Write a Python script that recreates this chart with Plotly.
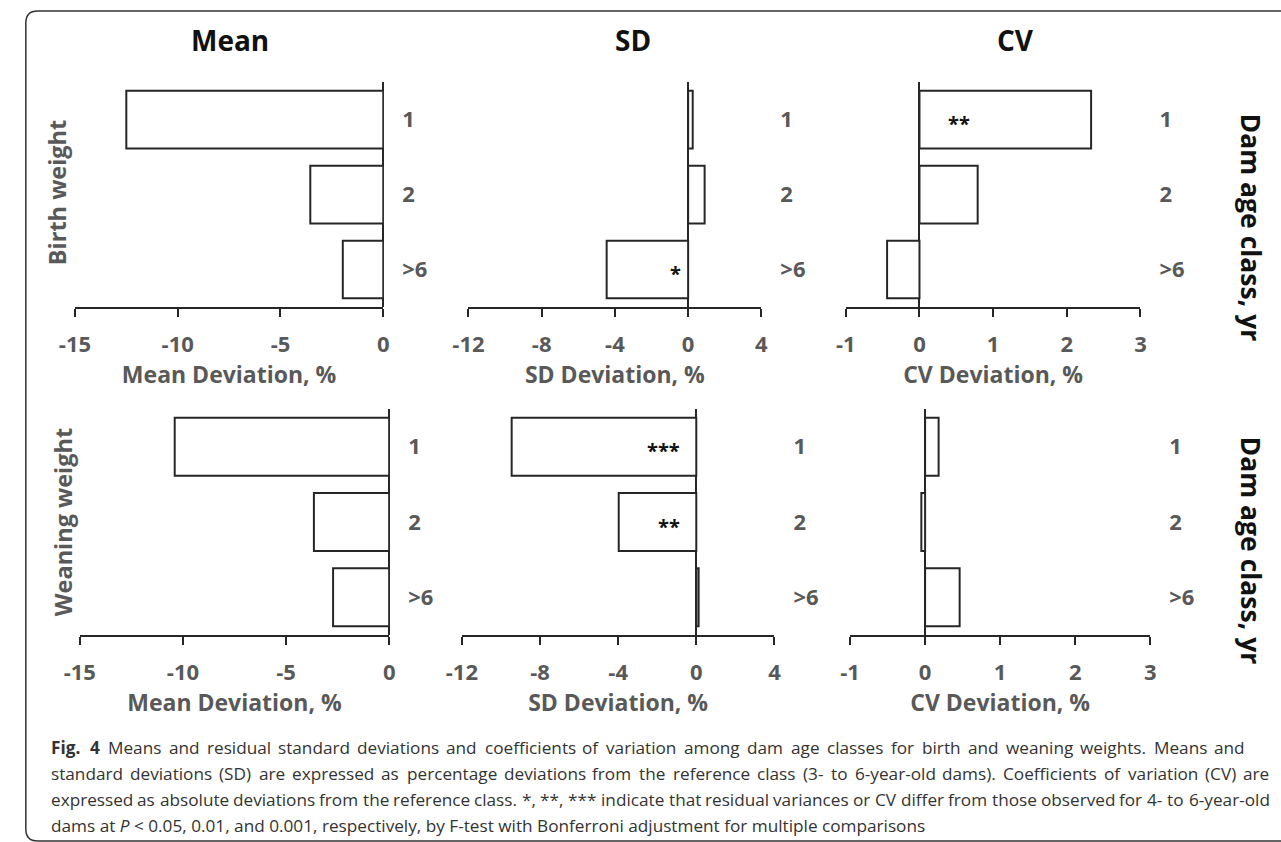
import plotly.graph_objects as go
from plotly.subplots import make_subplots

# ---------------- data ----------------
categories = ["1", "2", ">6"]

birth_mean = [-12.5, -3.55, -1.97]
birth_sd = [0.25, 0.90, -4.45]
birth_cv = [2.33, 0.79, -0.44]

wean_mean = [-10.4, -3.65, -2.72]
wean_sd = [-9.45, -3.97, 0.12]
wean_cv = [0.18, -0.05, 0.46]

birth_sd_sig = ["", "", "*"]
birth_cv_sig = ["**", "", ""]
wean_sd_sig = ["***", "**", ""]

col_titles = ["Mean", "SD", "CV"]
row_titles = ["Birth weight", "Weaning weight"]
x_titles = ["Mean Deviation, %", "SD Deviation, %", "CV Deviation, %"]
x_ranges = [[-15, 0], [-12, 4], [-1, 3]]
x_ticks = [[-15, -10, -5, 0], [-12, -8, -4, 0, 4], [-1, 0, 1, 2, 3]]
right_title = "Dam age class, yr"

caption_lines = [
    "Fig. 4 Means and residual standard deviations and coefficients of variation among dam age classes for birth and weaning weights. Means and",
    "standard deviations (SD) are expressed as percentage deviations from the reference class (3- to 6-year-old dams). Coefficients of variation (CV) are",
    "expressed as absolute deviations from the reference class. *, **, *** indicate that residual variances or CV differ from those observed for 4- to 6-year-old",
    "dams at <i>P</i> &lt; 0.05, 0.01, and 0.001, respectively, by F-test with Bonferroni adjustment for multiple comparisons",
]
caption_bold_words = 2          # "Fig." and "4"
caption_justified = [True, True, True, False]

# ---------------- layout helpers ----------------
W, H = 1281, 842
def px(x):
    return x / W
def py(y):
    return 1 - y / H

GRAY = "#595959"
LINE = "#262626"
FONT = "Open Sans"
CAP_SIZE = 17.2
CAP_X0 = 35
CAP_X1 = [1250, 1275, 1274, None]

# approximate Open Sans advance widths (em) used to justify the caption
OS_W = {
    "a": .556, "b": .613, "c": .48, "d": .613, "e": .561, "f": .336, "g": .546,
    "h": .614, "i": .252, "j": .252, "k": .529, "l": .252, "m": .932, "n": .614,
    "o": .602, "p": .613, "q": .613, "r": .409, "s": .477, "t": .353, "u": .614,
    "v": .5, "w": .775, "x": .524, "y": .5, "z": .468,
    "C": .631, "D": .729, "M": .907, "S": .549, "V": .59, "F": .516, "B": .648,
    "P": .603, ".": .266, ",": .245, "(": .296, ")": .296, "-": .322, "*": .551,
}
OS_WB = {"F": .6, "i": .31, "g": .59, ".": .29}

def word_w(word, bold=False):
    tot = 0.0
    for ch in word:
        if bold and ch in OS_WB:
            tot += OS_WB[ch]
        elif ch.isdigit():
            tot += .572
        else:
            tot += OS_W.get(ch, .55)
    return tot * CAP_SIZE

fig = make_subplots(rows=2, cols=3)

series = [[birth_mean, birth_sd, birth_cv], [wean_mean, wean_sd, wean_cv]]
for r in range(2):
    for c in range(3):
        fig.add_trace(
            go.Bar(
                x=series[r][c], y=categories, orientation="h",
                marker=dict(color="white", line=dict(color=LINE, width=2)),
                showlegend=False, hoverinfo="x+y",
            ),
            row=r + 1, col=c + 1,
        )

# domains (pixel based)
x_dom = [
    [(60, 374), (460.7, 759), (845, 1145)],
    [(65, 380), (454, 772.3), (849.3, 1155)],
]
y_dom = [(82, 307), (409, 635)]

for r in range(2):
    for c in range(3):
        idx = r * 3 + c + 1
        xa = "xaxis" if idx == 1 else f"xaxis{idx}"
        ya = "yaxis" if idx == 1 else f"yaxis{idx}"
        x0, x1 = x_dom[r][c]
        y0, y1 = y_dom[r]
        fig.layout[xa].update(
            domain=[px(x0), px(x1)],
            range=x_ranges[c],
            tickvals=x_ticks[c],
            ticktext=[str(v) for v in x_ticks[c]],
            showline=True, linecolor=LINE, linewidth=2,
            ticks="outside", ticklen=8, tickwidth=2, tickcolor=LINE,
            showgrid=False,
            zeroline=True, zerolinecolor=LINE, zerolinewidth=2,
            tickfont=dict(family=FONT, size=22, color=GRAY, weight="bold"),
            ticklabelstandoff=9,
            title=dict(text=x_titles[c], standoff=4,
                       font=dict(family=FONT, size=23, color=GRAY, weight="bold")),
            fixedrange=True,
        )
        fig.layout[ya].update(
            domain=[py(y1), py(y0)],
            type="category",
            categoryorder="array", categoryarray=categories,
            range=[2.5, -0.5],
            side="right",
            showline=False, ticks="", showgrid=False, zeroline=False,
            tickfont=dict(family=FONT, size=22, color=GRAY, weight="bold"),
            ticklabelstandoff=18,
            fixedrange=True,
        )

fig.update_layout(bargap=0.23)

annotations = []
# column titles
for x, t in zip([218, 628, 1018], col_titles):
    annotations.append(dict(x=px(x), y=py(40), xref="paper", yref="paper",
                            xanchor="center", yanchor="middle",
                            text=f"<b>{t}</b>", showarrow=False,
                            font=dict(family=FONT, size=28, color="#111111")))
# row titles
for (x, y), t in zip([(42, 193), (48, 522)], row_titles):
    annotations.append(dict(x=px(x), y=py(y), xref="paper", yref="paper",
                            xanchor="center", yanchor="middle",
                            text=f"<b>{t}</b>", showarrow=False, textangle=-90,
                            font=dict(family=FONT, size=23.5, color=GRAY)))
# right titles
for y in [228, 551]:
    annotations.append(dict(x=px(1258), y=py(y), xref="paper", yref="paper",
                            xanchor="center", yanchor="middle",
                            text=f"<b>{right_title}</b>", showarrow=False, textangle=90,
                            font=dict(family=FONT, size=26.5, color="#111111")))

# significance marks (y given as category index)
def add_sig(labels, xref, yref, anchor, shift):
    for i, lab in enumerate(labels):
        if lab:
            annotations.append(dict(x=0, y=i, xref=xref, yref=yref, text=f"<b>{lab}</b>",
                                    showarrow=False, xanchor=anchor, yanchor="middle",
                                    xshift=shift, yshift=-4,
                                    font=dict(family=FONT, size=20, color="#111111")))

add_sig(birth_sd_sig, "x2", "y2", "right", -5)
add_sig(birth_cv_sig, "x3", "y3", "left", 27)
add_sig(wean_sd_sig, "x5", "y5", "right", -14)

# caption (justified lines placed word by word)
cap_font = dict(family="Open Sans", size=CAP_SIZE, color="#333333")
for li, line in enumerate(caption_lines):
    yy = py(747 + li * 26.3)
    if not caption_justified[li]:
        annotations.append(dict(x=px(CAP_X0), y=yy, xref="paper", yref="paper",
                                text=line, showarrow=False, xanchor="left", yanchor="middle",
                                borderpad=0, font=cap_font))
        continue
    words = line.split(" ")
    bold = [li == 0 and k < caption_bold_words for k in range(len(words))]
    widths = [word_w(w, b) for w, b in zip(words, bold)]
    gap = (CAP_X1[li] - CAP_X0 - sum(widths)) / (len(words) - 1)
    xpos = CAP_X0
    for k, (w, b, ww) in enumerate(zip(words, bold, widths)):
        txt = w.replace("<", "&lt;")
        if b:
            txt = f"<b>{txt}</b>"
        annotations.append(dict(x=px(xpos), y=yy,
                                xref="paper", yref="paper", text=txt, showarrow=False,
                                xanchor="left", yanchor="middle",
                                borderpad=0, font=cap_font))
        xpos += ww + gap

fig.update_layout(annotations=annotations)

# rounded frame
fx0, fy0, fx1, fy1, rad = 10, 11, 1300, 841, 12
path = (f"M {px(fx1)},{py(fy0)} L {px(fx0+rad)},{py(fy0)} "
        f"Q {px(fx0)},{py(fy0)} {px(fx0)},{py(fy0+rad)} "
        f"L {px(fx0)},{py(fy1-rad)} Q {px(fx0)},{py(fy1)} {px(fx0+rad)},{py(fy1)} "
        f"L {px(fx1)},{py(fy1)}")
fig.add_shape(type="path", path=path, xref="paper", yref="paper",
              line=dict(color="#333333", width=1.5))

fig.update_layout(
    width=W, height=H,
    margin=dict(l=0, r=0, t=0, b=0),
    paper_bgcolor="white", plot_bgcolor="white",
    font=dict(family=FONT),
)

fig.write_html(
    "out.html",
    config={"displayModeBar": False},
    post_script="document.body.style.margin='0';document.body.style.overflow='hidden';",
)
